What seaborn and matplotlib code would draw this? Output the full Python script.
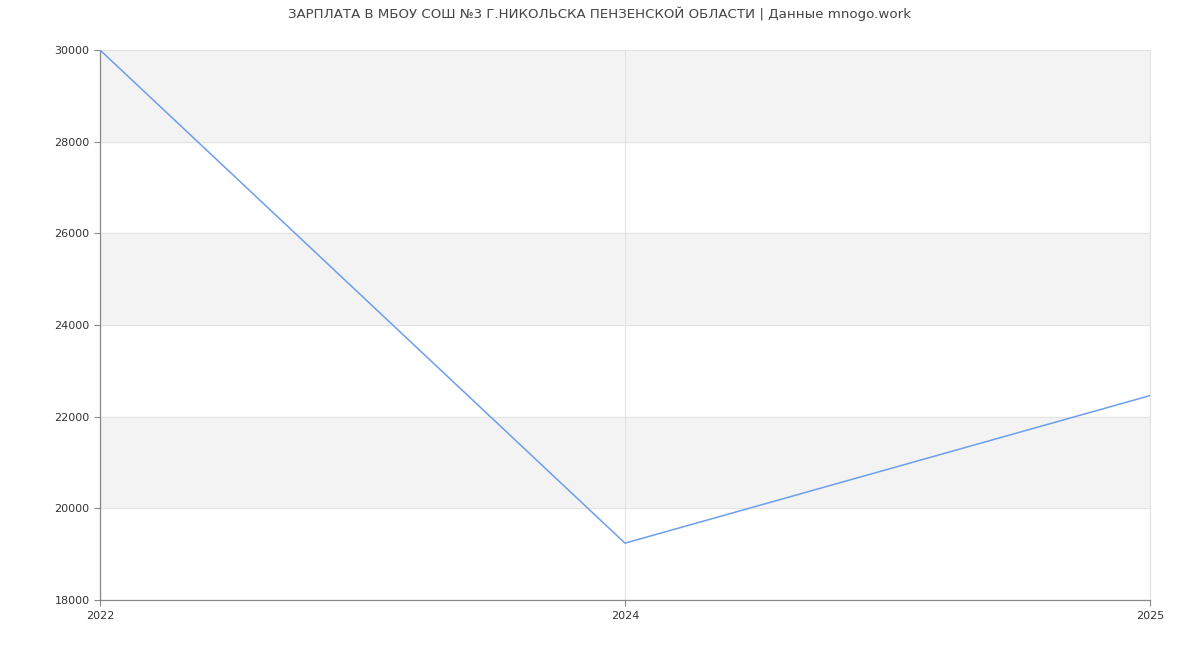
import pandas as pd
import matplotlib.pyplot as plt
import seaborn as sns

# data
years = ["2022", "2024", "2025"]
salary = [30000, 19240, 22460]
y_ticks = [18000, 20000, 22000, 24000, 26000, 28000, 30000]
title = "ЗАРПЛАТА В МБОУ СОШ №3 Г.НИКОЛЬСКА ПЕНЗЕНСКОЙ ОБЛАСТИ | Данные mnogo.work"

df = pd.DataFrame({"year": years, "salary": salary})
df["pos"] = range(len(years))

sns.set_theme(style="white")
plt.rcParams["font.family"] = ["DejaVu Sans"]

fig = plt.figure(figsize=(12, 6.5), dpi=100)
ax = fig.add_axes([100 / 1200, 50 / 650, 1050 / 1200, 550 / 650])

# alternating bands
for lo in [20000, 24000, 28000]:
    ax.axhspan(lo, lo + 2000, color="#f3f3f3", zorder=0)

sns.lineplot(data=df, x="pos", y="salary", color="#6d9eeb", linewidth=1.1, ax=ax, zorder=3)

ax.set_xlim(0, len(years) - 1)
ax.set_ylim(18000, 30000)
ax.set_xticks(df["pos"])
ax.set_xticklabels(years)
ax.set_yticks(y_ticks)
ax.set_xlabel("")
ax.set_ylabel("")

ax.grid(True, color="#e3e3e3", linewidth=0.8, zorder=1)
ax.set_axisbelow(True)

ax.spines["top"].set_visible(False)
ax.spines["right"].set_color("#e3e3e3")
ax.spines["right"].set_linewidth(0.8)
for side in ["left", "bottom"]:
    ax.spines[side].set_color("#888888")
    ax.spines[side].set_linewidth(0.9)

ax.tick_params(axis="both", labelsize=8, colors="#333333", length=4, width=0.8,
               color="#888888", bottom=True, left=True)
ax.tick_params(axis="x", pad=4)

fig.suptitle(title, fontsize=9.6, color="#444444", y=0.99)

plt.savefig("out.png", dpi=100)
